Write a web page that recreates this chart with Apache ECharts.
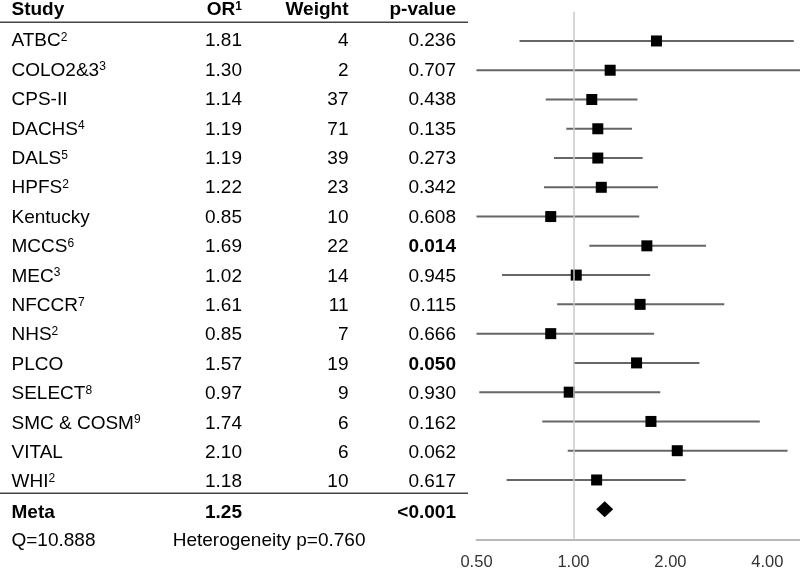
<!DOCTYPE html>
<html>
<head>
<meta charset="utf-8">
<script src="https://cdn.jsdelivr.net/npm/echarts@6/dist/echarts.min.js"></script>
<style>html,body{margin:0;padding:0;background:#fff}#c{width:800px;height:571px}</style>
</head>
<body>
<div id="c"></div>
<script>
const studies = ['ATBC','COLO2&3','CPS-II','DACHS','DALS','HPFS','Kentucky','MCCS','MEC','NFCCR','NHS','PLCO','SELECT','SMC & COSM','VITAL','WHI'];
const studySup = ['2','3','','4','5','2','','6','3','7','2','','8','9','','2'];
const orValues = [1.81,1.30,1.14,1.19,1.19,1.22,0.85,1.69,1.02,1.61,0.85,1.57,0.97,1.74,2.10,1.18];
const weights = [4,2,37,71,39,23,10,22,14,11,7,19,9,6,6,10];
const pValues = ['0.236','0.707','0.438','0.135','0.273','0.342','0.608','0.014','0.945','0.115','0.666','0.050','0.930','0.162','0.062','0.617'];
const pSignificant = [false,false,false,false,false,false,false,true,false,false,false,true,false,false,false,false];
const ciLower = [0.68,0.49,0.82,0.95,0.87,0.81,0.45,1.12,0.60,0.89,0.42,1.00,0.51,0.80,0.96,0.62];
const ciUpper = [4.83,5.40,1.58,1.52,1.64,1.83,1.60,2.58,1.73,2.94,1.78,2.46,1.86,3.79,4.62,2.23];
const metaOR = 1.25;
const metaP = '<0.001';
const qStat = 'Q=10.888';
const heterogeneity = 'Heterogeneity p=0.760';
const xTicks = [0.5, 1, 2, 4];

const FONT = 'Liberation Sans, Arial, Helvetica, sans-serif';
const FS = 19;
const gridTop = 11.7, rowH = 29.4, nRows = 18;
const rowY = i => gridTop + i * rowH;

const rich = {
  n: {fontFamily: FONT, fontSize: FS, fill: '#000', color: '#000'},
  b: {fontFamily: FONT, fontSize: FS, fontWeight: 'bold', fill: '#000', color: '#000'},
  s: {fontFamily: FONT, fontSize: 12, fill: '#000', color: '#000', verticalAlign: 'top'},
  sb: {fontFamily: FONT, fontSize: 12, fontWeight: 'bold', fill: '#000', color: '#000', verticalAlign: 'top'}
};
function esc(t){ return String(t).replace(/[{}|]/g, ''); }
function txt(x, y, text, align, bold, sup) {
  let s = '{' + (bold ? 'b' : 'n') + '|' + esc(text) + '}';
  if (sup) s += '{' + (bold ? 'sb' : 's') + '|' + sup + '}';
  return {type: 'text', x: x, y: y, z: 10, style: {text: s, rich: rich, align: align, verticalAlign: 'middle', font: (bold?'bold ':'') + FS + 'px ' + FONT, fill: '#000'}};
}
const colStudy = 11.5, colOR = 242, colW = 348.5, colP = 456;
const graphics = [];
const headY = 10;
graphics.push(txt(colStudy, headY, 'Study', 'left', true));
graphics.push(txt(colOR, headY, 'OR', 'right', true, '1'));
graphics.push(txt(colW, headY, 'Weight', 'right', true));
graphics.push(txt(colP, headY, 'p-value', 'right', true));
studies.forEach((s, k) => {
  const y = rowY(k + 1);
  graphics.push(txt(colStudy, y, s, 'left', false, studySup[k]));
  graphics.push(txt(colOR, y, orValues[k].toFixed(2), 'right', false));
  graphics.push(txt(colW, y, String(weights[k]), 'right', false));
  graphics.push(txt(colP, y, pValues[k], 'right', pSignificant[k]));
});
const metaY = rowY(studies.length + 1) + 1;
graphics.push(txt(colStudy, metaY, 'Meta', 'left', true));
graphics.push(txt(colOR, metaY, metaOR.toFixed(2), 'right', true));
graphics.push(txt(colP, metaY, metaP, 'right', true));
const qY = rowY(studies.length + 2);
graphics.push(txt(colStudy, qY, qStat, 'left', false));
graphics.push(txt(172.7, qY, heterogeneity, 'left', false));
graphics.push({type: 'line', z: 10, shape: {x1: 0, y1: 22.3, x2: 468, y2: 22.3}, style: {stroke: '#444', lineWidth: 1.6}});
graphics.push({type: 'line', z: 10, shape: {x1: 0, y1: 493.3, x2: 468, y2: 493.3}, style: {stroke: '#444', lineWidth: 1.6}});

const ciData = studies.map((s, k) => [ciLower[k], ciUpper[k], k + 1]);
const ptData = studies.map((s, k) => [orValues[k], k + 1]);
const metaData = [[metaOR, studies.length + 1]];

const chart = echarts.init(document.getElementById('c'), null, {renderer: 'canvas'});
chart.setOption({
  animation: false,
  backgroundColor: '#fff',
  grid: {left: 476.5, right: 0, top: gridTop, height: rowH * nRows + 1.5, containLabel: false},
  xAxis: {
    type: 'log', logBase: 2, min: 0.5, max: 5.05, position: 'bottom',
    axisLine: {show: true, onZero: false, lineStyle: {color: '#b8b8b8', width: 2}},
    axisTick: {show: false},
    splitLine: {show: false},
    minorTick: {show: false},
    axisLabel: {
      showMinLabel: true, showMaxLabel: false, margin: 14,
      fontFamily: FONT, fontSize: 16.5, color: '#333',
      formatter: v => (xTicks.some(t => Math.abs(t - v) < 1e-6) ? Number(v).toFixed(2) : '')
    }
  },
  yAxis: {type: 'value', inverse: true, min: 0, max: nRows + 1.5 / rowH, show: false},
  graphic: graphics,
  series: [
    {
      type: 'scatter', data: [], z: 1, silent: true,
      markLine: {
        silent: true, symbol: 'none', label: {show: false},
        lineStyle: {color: '#c8c8c8', width: 1.5, type: 'solid'},
        data: [{xAxis: 1}]
      }
    },
    {
      type: 'custom', z: 3, silent: true,
      encode: {x: [0, 1], y: 2},
      data: ciData,
      renderItem: (params, api) => {
        const p1 = api.coord([api.value(0), api.value(2)]);
        const p2 = api.coord([api.value(1), api.value(2)]);
        const cs = params.coordSys;
        const x1 = Math.max(p1[0], cs.x), x2 = Math.min(p2[0], cs.x + cs.width);
        return {type: 'line', shape: {x1: x1, y1: p1[1], x2: x2, y2: p1[1]}, style: {stroke: '#666', lineWidth: 2}};
      }
    },
    {
      type: 'scatter', z: 4, silent: true, data: ptData,
      symbol: 'rect', symbolSize: 11, itemStyle: {color: '#000', opacity: 1}
    },
    {
      type: 'scatter', z: 4, silent: true, data: metaData,
      symbol: 'diamond', symbolSize: [17, 16], itemStyle: {color: '#000', opacity: 1}
    }
  ]
});
</script>
</body>
</html>
